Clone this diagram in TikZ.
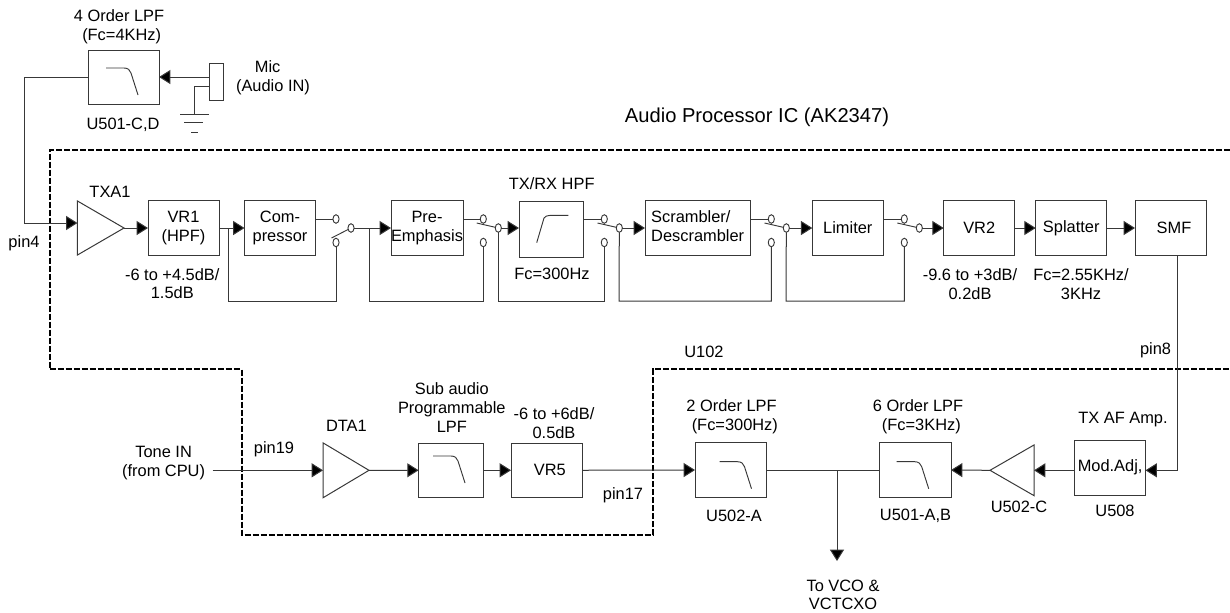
\documentclass[tikz,border=0pt]{standalone}
\usepackage{fontspec}
\setmainfont{Liberation Sans}
\usetikzlibrary{arrows.meta,shapes.geometric,calc}
\definecolor{ink}{HTML}{383838}
\tikzset{
  wire/.style={draw=ink,line width=0.75pt},
  arr/.style={wire,-{Triangle[length=8.5pt,width=10.5pt,fill=black]}},
  blk/.style={draw=ink,line width=0.75pt,rectangle,inner sep=0pt,outer sep=0pt,align=center,fill=white},
  lbl/.style={inner sep=0pt,outer sep=0pt,align=center,text=black},
  glyph/.style={draw=ink,line width=0.7pt},
  bound/.style={draw=black,line width=1.5pt,dash pattern=on 4.5pt off 1.5pt},
  pole/.style={draw=ink,line width=0.7pt,ellipse,inner sep=0pt,outer sep=0pt,minimum width=4.6pt,minimum height=6.4pt,fill=white},
  amp/.style={draw=ink,line width=0.75pt,isosceles triangle,isosceles triangle stretches,inner sep=0pt,outer sep=0pt},
}
\newcommand{\blkbox}[6]{%
  \pgfmathsetlengthmacro{\bw}{(#4-#2)*0.75pt}%
  \pgfmathsetlengthmacro{\bh}{(#5-#3)*0.75pt}%
  \node[blk,minimum width=\bw,minimum height=\bh] (#1) at ({(#2+#4)/2},{(#3+#5)/2}) {#6};}
\newcommand{\lpfglyph}[3]{%
  \begin{scope}[shift={(#1.north west)},xshift={#2*0.75pt},yshift={-#3*0.75pt}]
    \draw[glyph] (0,0) -- (18,0) .. controls (22,0) and (24,2) .. (25,5) -- (32,27);
  \end{scope}}
\newcommand{\swtch}[3]{%
  \node[pole] (#1u) at (#2,219) {};
  \node[pole] (#1l) at (#2,242.5) {};
  \node[pole] (#1c) at ({#2+15},228) {};
}
\begin{document}
\begin{tikzpicture}[x=0.75pt,y=-0.75pt,font=\fontsize{12.3}{14}\selectfont]
\useasboundingbox (0,0) rectangle (1230,612);

% dashed IC boundary
\draw[bound] (1230,150) -- (49.5,150) -- (49.5,369.3) -- (241.5,369.3) -- (241.5,534.5) -- (653,534.5) -- (653,369.3) -- (1230,369.3);

% blocks
\blkbox{lpfa}{88}{50}{159}{104}{}
\blkbox{mic}{209}{63.5}{223}{100}{}
\blkbox{vra}{148}{200.5}{219}{255.5}{VR1\\(HPF)}
\blkbox{comp}{244.5}{200.5}{315.5}{255.5}{Com-\\pressor}
\blkbox{pre}{391.3}{200.5}{462.7}{255.5}{Pre-\\Emphasis}
\blkbox{hpf}{519}{201.7}{583}{257}{}
\blkbox{scr}{645}{200.5}{750.3}{255.5}{\begin{tabular}{@{}l@{}}Scrambler/\\Descrambler\end{tabular}}
\blkbox{lim}{812.3}{200.5}{883.3}{255.5}{Limiter}
\blkbox{vrb}{943.7}{200.5}{1014.7}{255.5}{VR2}
\blkbox{spl}{1035.7}{200.5}{1106.7}{255.5}{Splatter}
\blkbox{smf}{1135}{200.5}{1206.3}{255.5}{\hspace{5pt}SMF}
\blkbox{lpfb}{418.6}{443}{483}{497.5}{}
\blkbox{vre}{511}{443}{582}{497.5}{\hspace{5pt}VR5}
\blkbox{lpfc}{695}{442.7}{766.5}{497.3}{}
\blkbox{lpfd}{879.7}{442.7}{951}{497.3}{}
\blkbox{mod}{1074.7}{440}{1145.5}{495}{Mod.Adj,}

% amplifiers
\node[amp,minimum height=34.9pt,minimum width=40.5pt,anchor=apex] (txa) at (124,228) {};
\node[amp,minimum height=34.5pt,minimum width=41.2pt,anchor=apex] (dta) at (369,470.3) {};
\node[amp,minimum height=33pt,minimum width=38pt,shape border rotate=180,anchor=apex] (ampc) at (990,470.3) {};

% filter glyphs
\lpfglyph{lpfa}{18}{18}
\lpfglyph{lpfb}{14.4}{13}
\lpfglyph{lpfc}{24.5}{19}
\lpfglyph{lpfd}{17}{19}
\begin{scope}[shift={(hpf.north west)}]
  \draw[glyph] (17.7,41) -- (25,16.3) .. controls (26.5,14.5) and (28,13.7) .. (31,13.7) -- (49.3,13.7);
\end{scope}

% switches
\swtch{sa}{336}{}
\swtch{sb}{483.3}{}
\swtch{sc}{604.3}{}
\swtch{sd}{771.3}{}
\swtch{se}{904.3}{}
\coordinate (la) at (331.5,238);
\coordinate (lb) at (476.7,223);
\coordinate (lc) at (597.5,223);
\coordinate (ld) at (764.5,223);
\coordinate (le) at (897.3,223);
\foreach \l/\c in {la/sa,lb/sb,lc/sc,ld/sd,le/se}{
  \draw[glyph] (\l) -- (\c c);
}

% bottom return level
\coordinate (ra) at (228.7,301);
\coordinate (rb) at (369,301);
\coordinate (rc) at (498.3,301);
\coordinate (rd) at (619,301);
\coordinate (re) at (786,301);

% mic input
\coordinate (gndtop) at (194,86);
\coordinate (gnd) at (194,114);
\draw[arr] (mic.west |- lpfa.east) -- (lpfa.east);
\draw[wire] (gndtop -| mic.west) -- (gndtop) -- (gnd);
\coordinate (ga) at (180,114); \coordinate (gb) at (209,114);
\coordinate (gc) at (184,122); \coordinate (gd) at (203,122);
\coordinate (ge) at (191,132); \coordinate (gf) at (198,132);
\draw[wire] (ga) -- (gb);
\draw[wire] (gc) -- (gd);
\draw[wire] (ge) -- (gf);

% to TXA1
\coordinate (ta) at (24.5,77);
\coordinate (tb) at (24.5,223);
\draw[arr] (lpfa.west) -- (ta) -- (tb) -- (tb -| txa.lower side);

% top chain
\draw[arr] (txa.apex) -- (vra.west);
\draw[arr] (vra.east) -- (comp.west);
\draw[wire] (ra |- vra.east) -- (ra) -- (ra -| sal) -- (sal.south);
\draw[wire] (comp.east |- sau) -- (sau.west);
\draw[arr] (sac.east) -- (sac -| pre.west);
\draw[wire] (rb |- sac) -- (rb) -- (rb -| sbl) -- (sbl.south);
\draw[wire] (pre.east |- sbu) -- (sbu.west);
\draw[arr] (sbc.east) -- (sbc -| hpf.west);
\draw[wire] (sbc.south) -- (rc) -- (rc -| scl) -- (scl.south);
\draw[wire] (hpf.east |- scu) -- (scu.west);
\draw[arr] (scc.east) -- (scc -| scr.west);
\draw[wire] (scc.south) -- (rd) -- (rd -| sdl) -- (sdl.south);
\draw[wire] (scr.east |- sdu) -- (sdu.west);
\draw[arr] (sdc.east) -- (sdc -| lim.west);
\draw[wire] (sdc.south) -- (re) -- (re -| sel) -- (sel.south);
\draw[wire] (lim.east |- seu) -- (seu.west);
\draw[arr] (sec.east) -- (sec -| vrb.west);
\draw[arr] (vrb.east) -- (spl.west);
\draw[arr] (spl.east) -- (smf.west);

% return to bottom chain
\coordinate (sm) at (1177.7,470.3);
\draw[arr] (sm |- smf.south) -- (sm) -- (mod.east |- sm);
\draw[arr] (mod.west |- sm) -- (ampc.lower side |- sm);
\draw[arr] (ampc.apex) -- (lpfd.east);

% bottom chain
\coordinate (tone) at (212.5,470.3);
\draw[arr] (tone) -- (tone -| dta.lower side);
\draw[arr] (dta.apex) -- (lpfb.west);
\draw[arr] (lpfb.east) -- (vre.west);
\draw[arr] (vre.east) -- (lpfc.west);
\draw[wire] (lpfc.east) -- (lpfd.west);
\coordinate (br) at (837,470.3);
\coordinate (out) at (837,561);
\draw[arr] (br) -- (out);

% labels
\node[lbl] (t01) at (119,27) {4 Order LPF\\\hspace{4pt}(Fc=4KHz)};
\node[lbl] (t02) at (123,125) {U501-C,D};
\node[lbl] (t03) at (273,78) {\hspace{-8pt}Mic\\(Audio IN)};
\node[lbl,font=\fontsize{15.1}{18}\selectfont] (t04) at (757,117) {Audio Processor IC (AK2347)};
\node[lbl] (t05) at (110,192) {TXA1};
\node[lbl] (t06) at (24,243) {pin4};
\node[lbl] (t07) at (172.3,283.5) {-6 to +4.5dB/\\1.5dB};
\node[lbl] (t08) at (551.7,184) {TX/RX HPF};
\node[lbl] (t09) at (552,274) {Fc=300Hz};
\node[lbl] (t10) at (970,284) {-9.6 to +3dB/\\0.2dB};
\node[lbl] (t11) at (1081,284) {Fc=2.55KHz/\\3KHz};
\node[lbl] (t12) at (1155.6,350) {pin8};
\node[lbl] (t13) at (704,352) {U102};
\node[lbl] (t14) at (163.6,463) {Tone IN\\(from CPU)};
\node[lbl] (t15) at (274,449) {pin19};
\node[lbl] (t16) at (346.4,425.7) {DTA1};
\node[lbl] (t17) at (451.8,407.5) {Sub audio\\Programmable\\LPF};
\node[lbl] (t18) at (554,423) {-6 to +6dB/\\0.5dB};
\node[lbl] (t19) at (623,495.7) {pin17};
\node[lbl] (t20) at (731.5,416.7) {2 Order LPF\\\hspace{5pt}(Fc=300Hz)};
\node[lbl] (t21) at (918,416.7) {6 Order LPF\\\hspace{5pt}(Fc=3KHz)};
\node[lbl] (t22) at (734,516) {U502-A};
\node[lbl] (t23) at (915.5,516) {U501-A,B};
\node[lbl] (t24) at (1019,507) {U502-C};
\node[lbl] (t25) at (1123,420) {TX AF Amp.};
\node[lbl] (t26) at (1115,511) {U508};
\node[lbl] (t27) at (843,595) {To VCO \&\\VCTCXO};
\end{tikzpicture}
\end{document}
